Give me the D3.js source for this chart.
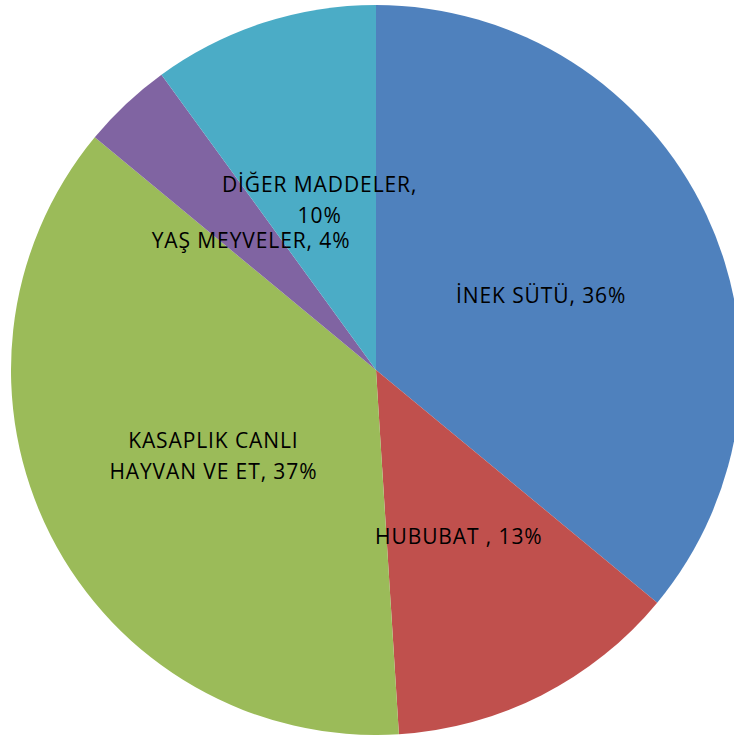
<!DOCTYPE html>
<html>
<head>
<meta charset="utf-8">
<script src="https://cdn.jsdelivr.net/npm/d3@7"></script>
<style>
  body { margin: 0; background: #fff; }
  svg { display: block; }
</style>
</head>
<body>
<div id="chart"></div>
<script>
// slice data, clockwise from 12 o'clock
const categories = ["İNEK SÜTÜ", "HUBUBAT ", "KASAPLIK CANLI HAYVAN VE ET", "YAŞ MEYVELER", "DİĞER MADDELER"];
const values = [36, 13, 37, 4, 10];
// how each label is broken into lines ({p} = percent)
const labelLines = [
    ["İNEK SÜTÜ, {p}"],
    ["HUBUBAT , {p}"],
    ["KASAPLIK CANLI", "HAYVAN VE ET, {p}"],
    ["YAŞ MEYVELER, {p}"],
    ["DİĞER MADDELER,", "{p}"]
];
const colors = ["#4F81BD", "#C0504D", "#9BBB59", "#8064A2", "#4BACC6"];

const width = 734, height = 735;
const cx = 376, cy = 370, radius = 365;

let svg = d3.select("#chart").append("svg")
    .attr("width", width)
    .attr("height", height)
    .attr("viewBox", [0, 0, width, height]);

let data = categories.map((c, i) => ({name: c, value: values[i], lines: labelLines[i]}));

let pie = d3.pie()
    .sort(null)
    .value(d => d.value);

let arc = d3.arc()
    .innerRadius(0)
    .outerRadius(radius);

let color = d3.scaleOrdinal()
    .domain(categories)
    .range(colors);

let g = svg.append("g")
    .attr("transform", `translate(${cx}, ${cy})`);

let arcs = pie(data);

g.selectAll("path")
    .data(arcs)
    .join("path")
    .attr("fill", d => color(d.data.name))
    .attr("d", arc);

/*labels at the arc centroid (half radius)*/
const lineH = 31;
let label = g.selectAll(".label")
    .data(arcs)
    .join("text")
    .attr("class", "label")
    .attr("transform", d => {
        let [x, y] = arc.centroid(d);
        return `translate(${x}, ${y + 3})`;
    })
    .attr("text-anchor", "middle")
    .attr("font-family", "'Open Sans', sans-serif")
    .attr("font-size", 21)
    .attr("letter-spacing", 0.9)
    .attr("fill", "#000");

label.selectAll("tspan")
    .data(d => d.data.lines.map((l, i, a) => ({
        text: l.replace("{p}", d.data.value + "%"),
        dy: (i - (a.length - 1) / 2) * lineH
    })))
    .join("tspan")
    .attr("x", 0)
    .attr("y", d => d.dy)
    .attr("dominant-baseline", "central")
    .text(d => d.text);
</script>
</body>
</html>
